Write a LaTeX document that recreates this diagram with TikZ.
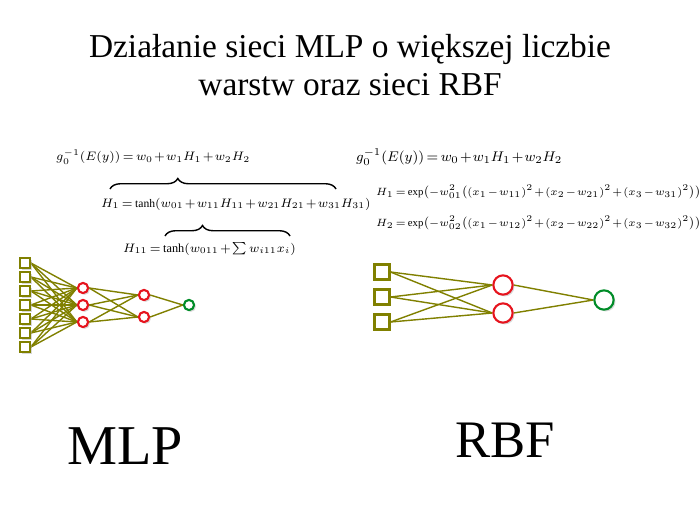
\documentclass[tikz,border=0pt]{standalone}
\usepackage{fontspec}
\setmainfont{Liberation Serif}
\usepackage{amsmath}
\usetikzlibrary{positioning, shadows, backgrounds, decorations.pathreplacing}

\definecolor{olivenet}{RGB}{128,128,0}
\definecolor{rednet}{RGB}{230,20,30}
\definecolor{greennet}{RGB}{0,140,40}

\newcommand{\tightmath}{\medmuskip=1.5mu\relax\thickmuskip=3mu\relax}

\tikzset{
  inp/.style={draw=olivenet, very thick, fill=white, minimum size=#1, inner sep=0pt,
    drop shadow={shadow xshift=1pt, shadow yshift=-1pt, fill=gray!60}},
  hid/.style={circle, draw=rednet, very thick, fill=white, minimum size=#1, inner sep=0pt,
    drop shadow={shadow xshift=1pt, shadow yshift=-1pt, fill=gray!60}},
  outn/.style={circle, draw=greennet, very thick, fill=white, minimum size=#1, inner sep=0pt,
    drop shadow={shadow xshift=1pt, shadow yshift=-1pt, fill=gray!60}},
  link/.style={draw=olivenet, thick},
  frm/.style={anchor=west, inner sep=0.5pt, font=\fontsize{#1}{9}\selectfont},
  frm/.default=7,
  curly/.style={decorate, thick, decoration={brace, amplitude=6pt, aspect=0.3}}
}

\begin{document}
\begin{tikzpicture}[x=0.02cm, y=-0.02cm]
  \useasboundingbox (0,0) rectangle (700,525);

  % Title
  \node[align=center, font=\fontsize{19}{21.5}\selectfont] (title) at (350,65)
    {Działanie sieci MLP o większej liczbie\\warstw oraz sieci RBF};

  % MLP formulas
  \node[frm] (f1) at (55,157) {$\tightmath g_0^{-1}(E(y)) = w_0 + w_1H_1 + w_2H_2$};
  \node[frm=6.6] (f2) at (100,204) {$\tightmath H_1 = \tanh(w_{01} + w_{11}H_{11} + w_{21}H_{21} + w_{31}H_{31})$};
  \node[frm] (f3) at (122,249) {$\tightmath H_{11} = \tanh(w_{011} + \sum w_{i11}x_i)$};
  \coordinate (br1a) at (110,189);
  \coordinate (br1b) at (336,189);
  \coordinate (br2a) at (165,236);
  \coordinate (br2b) at (290,236);
  \draw[curly] (br1a) -- (br1b);
  \draw[curly] (br2a) -- (br2b);

  % RBF formulas
  \node[frm=8.5] (g1) at (355,157) {$\tightmath g_0^{-1}(E(y)) = w_0 + w_1H_1 + w_2H_2$};
  \node[frm=6.1] (g2) at (375,192) {$\tightmath H_1 = \exp\bigl(-w_{01}^2\bigl((x_1 - w_{11})^2 + (x_2 - w_{21})^2 + (x_3 - w_{31})^2\bigr)\bigr)$};
  \node[frm=6.1] (g3) at (375,223) {$\tightmath H_2 = \exp\bigl(-w_{02}^2\bigl((x_1 - w_{12})^2 + (x_2 - w_{22})^2 + (x_3 - w_{32})^2\bigr)\bigr)$};

  % MLP network
  \foreach \k/\y in {1/263, 2/277, 3/291, 4/305, 5/319, 6/333, 7/347}
    \node[inp=5.5pt] (i\k) at (25,\y) {};
  \foreach \k/\y in {1/288, 2/305, 3/322}
    \node[hid=5.8pt] (a\k) at (83,\y) {};
  \foreach \k/\y in {1/295, 2/317}
    \node[hid=5.8pt] (b\k) at (144,\y) {};
  \node[outn=5.8pt] (o) at (189,305) {};
  \begin{scope}[on background layer]
    \foreach \i in {1,...,7}
      \foreach \a in {1,2,3}
        \draw[link] (i\i.east) -- (a\a.west);
    \foreach \a in {1,2,3}
      \foreach \b in {1,2}
        \draw[link] (a\a.east) -- (b\b.west);
    \foreach \b in {1,2}
      \draw[link] (b\b.east) -- (o.west);
  \end{scope}

  % RBF network
  \foreach \k/\y in {1/272, 2/297, 3/322}
    \node[inp=8.5pt] (r\k) at (382,\y) {};
  \foreach \k/\y in {1/285, 2/313}
    \node[hid=11pt] (h\k) at (503,\y) {};
  \node[outn=11pt] (y) at (604,300) {};
  \begin{scope}[on background layer]
    \foreach \r in {1,2,3}
      \foreach \h in {1,2}
        \draw[link] (r\r.east) -- (h\h.west);
    \foreach \h in {1,2}
      \draw[link] (h\h.east) -- (y.west);
  \end{scope}

  % Labels
  \node[font=\fontsize{32}{36}\selectfont] (mlp) at (125,446) {MLP};
  \node[font=\fontsize{30}{34}\selectfont] (rbf) at (505,440) {RBF};
\end{tikzpicture}
\end{document}
